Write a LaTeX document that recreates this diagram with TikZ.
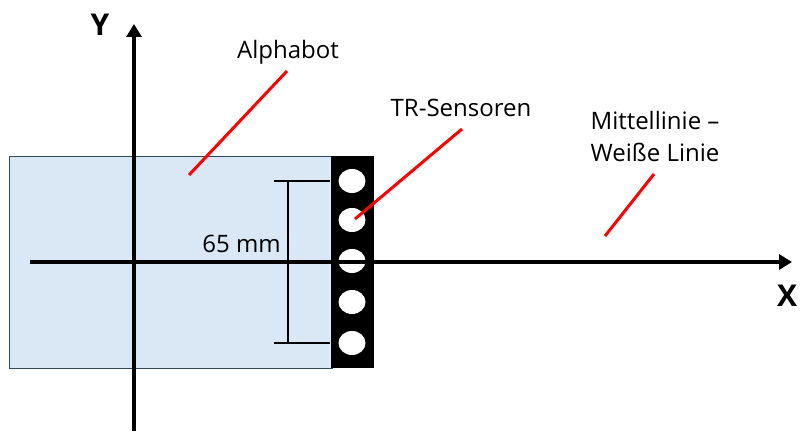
\documentclass[tikz,border=0pt]{standalone}
\usepackage{fontspec}
\setmainfont{Open Sans}
\usetikzlibrary{arrows.meta,shapes.geometric}
\definecolor{botfill}{HTML}{DAE7F5}
\definecolor{botedge}{HTML}{2E4A62}
\definecolor{pointer}{HTML}{FF0000}
\tikzset{
  axis/.style={line width=3.5pt,-{Triangle[length=13pt,width=15pt]}},
  lbl/.style={font=\fontsize{24}{32}\selectfont, inner sep=0pt, align=center},
  axlbl/.style={font=\fontsize{30}{32}\selectfont\bfseries, inner sep=0pt},
  redline/.style={pointer, line width=3pt},
  dimline/.style={line width=2.6pt},
  sensor/.style={ellipse, fill=white, minimum width=27pt, minimum height=24pt, inner sep=0pt}
}
\begin{document}
\begin{tikzpicture}[x=1pt,y=-1pt]
\useasboundingbox (0,0) rectangle (800,443);
% robot body
\node[draw=botedge, fill=botfill, line width=1pt, minimum width=323pt, minimum height=212pt, inner sep=0pt, anchor=north west] (bot) at (8.5,156) {};
% sensor bar
\node[fill=black, minimum width=43pt, minimum height=212pt, inner sep=0pt, anchor=north west] (bar) at (330.5,156) {};
\foreach \i/\y in {1/181,2/220,3/261,4/302,5/343}{
  \node[sensor] (s\i) at (352,\y) {};
}
% dimension
\coordinate (dt) at (288,181);
\coordinate (db) at (288,343);
\coordinate (dtl) at (274,181);
\coordinate (dtr) at (330,181);
\coordinate (dbl) at (274,343);
\coordinate (dbr) at (330,343);
\draw[dimline] (dt) -- (db);
\draw[dimline] (dtl) -- (dtr);
\draw[dimline] (dbl) -- (dbr);
\node[lbl, anchor=base east] (dim) at (281,253) {65 mm};
% axes
\coordinate (xs) at (30,262);
\coordinate (xe) at (792,262);
\coordinate (ys) at (134,431);
\coordinate (ye) at (134,24);
\draw[axis] (xs) -- (xe);
\draw[axis] (ys) -- (ye);
\node[axlbl] (ylab) at (100,25) {Y};
\node[axlbl] (xlab) at (787,296) {X};
% labels
\node[lbl, anchor=base] (alpha) at (288,59) {Alphabot};
\node[lbl, anchor=base] (tr) at (461,117) {TR-Sensoren};
\node[lbl, anchor=base] (mitte) at (655,162) {Mittellinie –\\Weiße Linie};
% pointers
\coordinate (a1) at (287,71);
\coordinate (a2) at (189,175);
\coordinate (t1) at (462,129);
\coordinate (t2) at (355,219);
\coordinate (m1) at (654,174);
\coordinate (m2) at (605,236);
\draw[redline] (a1) -- (a2);
\draw[redline] (t1) -- (t2);
\draw[redline] (m1) -- (m2);
\end{tikzpicture}
\end{document}
